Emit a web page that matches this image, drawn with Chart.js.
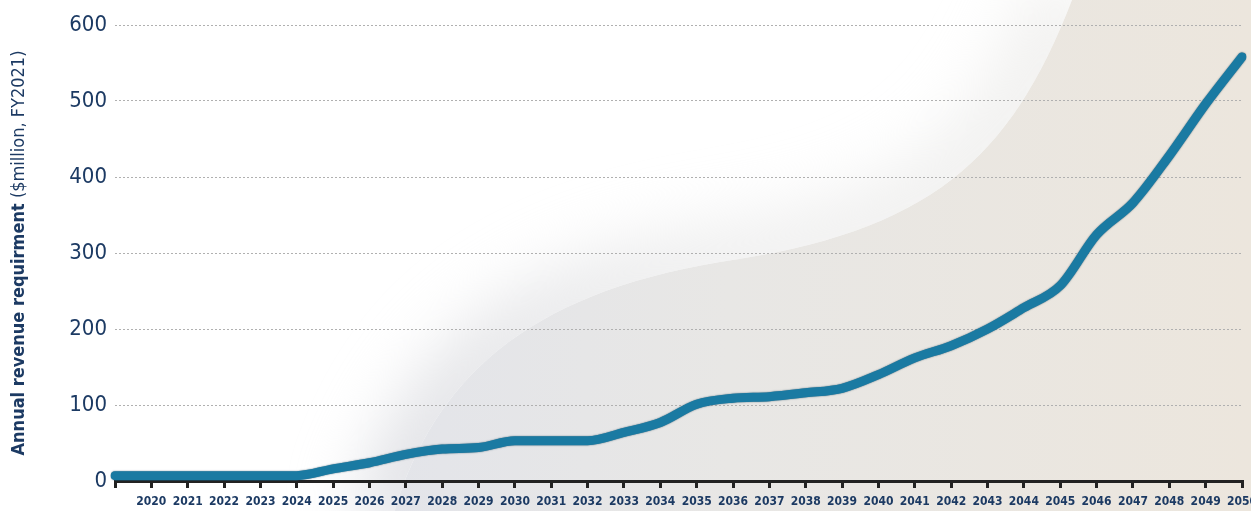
<!DOCTYPE html>
<html>
<head>
<meta charset="utf-8">
<style>
html,body{margin:0;padding:0;background:#ffffff;overflow:hidden}
#wrap{position:relative;width:1251px;height:511px}
canvas{display:block}
</style>
<script src="https://cdn.jsdelivr.net/npm/chart.js@4.4.1/dist/chart.umd.min.js"></script>
</head>
<body>
<div id="wrap"><canvas id="c" width="1251" height="511"></canvas></div>
<script>
// ---- data ----
const years = [2019,2020,2021,2022,2023,2024,2025,2026,2027,2028,2029,2030,2031,2032,2033,2034,2035,2036,2037,2038,2039,2040,2041,2042,2043,2044,2045,2046,2047,2048,2049,2050];
const revenue = [7,7,7,7,7,7,16,24,35,42,44,53,53,53,64,77,101,109,111,116,122,140,162,178,200,228,257,324,366,428,496,558];
const yTickValues = [0,100,200,300,400,500,600];
const hiddenYearLabels = [2019];
const yTitleBold = 'Annual revenue requirment';
const yTitleNormal = ' ($million, FY2021)';

const NAVY = '#1c3a63';
const FONT = '"DejaVu Sans Condensed", "DejaVu Sans", sans-serif';

const bgPlugin = {
  id: 'bgDecor',
  beforeDraw(chart) {
    const ctx = chart.ctx, W = chart.width, H = chart.height;
    ctx.save();
    const g = ctx.createLinearGradient(300, 0, W, 0);
    g.addColorStop(0, '#e2e4eb');
    g.addColorStop(0.45, '#e8e7e5');
    g.addColorStop(1, '#ece6dd');
    ctx.fillStyle = g;
    ctx.fillRect(0, 0, W, H);
    // white lobe
    const lobe = new Path2D();
    lobe.moveTo(-20, -20);
    lobe.lineTo(1072, -20);
    lobe.lineTo(1072, 0);
    lobe.bezierCurveTo(1010, 160, 930, 232, 720, 262);
    lobe.bezierCurveTo(520, 295, 430, 385, 392, 520);
    lobe.lineTo(-20, 520);
    lobe.closePath();
    ctx.fillStyle = '#ffffff';
    ctx.fill(lobe);
    // inner soft shading along the edge
    ctx.save();
    ctx.clip(lobe);
    const edge = new Path2D();
    edge.moveTo(1072, -10);
    edge.bezierCurveTo(1010, 160, 930, 232, 720, 262);
    edge.bezierCurveTo(520, 295, 430, 385, 392, 530);
    ctx.filter = 'blur(32px)';
    const sg = ctx.createLinearGradient(1072, 0, 392, 511);
    sg.addColorStop(0, 'rgba(230,229,226,0.55)');
    sg.addColorStop(0.5, 'rgba(230,230,230,0.6)');
    sg.addColorStop(1, 'rgba(222,223,228,1)');
    ctx.strokeStyle = sg;
    ctx.lineWidth = 80;
    ctx.stroke(edge);
    ctx.restore();
    ctx.restore();
  },
  beforeDatasetDraw(chart) {
    const ctx = chart.ctx;
    ctx.save();
    ctx.shadowColor = 'rgba(15,60,85,0.8)';
    ctx.shadowBlur = 1.5;
  },
  afterDatasetDraw(chart) {
    chart.ctx.restore();
  },
  afterDraw(chart) {
    const ctx = chart.ctx;
    ctx.save();
    ctx.fillStyle = NAVY;
    ctx.textBaseline = 'middle';
    ctx.translate(19, 253);
    ctx.rotate(-Math.PI / 2);
    const fb = 'bold 18px ' + FONT;
    const fn = '18px ' + FONT;
    ctx.font = fb; const wb = ctx.measureText(yTitleBold).width;
    ctx.font = fn; const wn = ctx.measureText(yTitleNormal).width;
    let x = -(wb + wn) / 2;
    ctx.textAlign = 'left';
    ctx.font = fb; ctx.fillText(yTitleBold, x, 0);
    ctx.font = fn; ctx.fillText(yTitleNormal, x + wb, 0);
    ctx.restore();
  }
};

new Chart(document.getElementById('c'), {
  type: 'line',
  data: {
    labels: years.map(String),
    datasets: [{
      data: revenue,
      borderColor: '#1a7aa2',
      borderWidth: 9,
      borderCapStyle: 'round',
      borderJoinStyle: 'round',
      pointRadius: 0,
      pointHoverRadius: 0,
      cubicInterpolationMode: 'monotone',
      fill: false
    }]
  },
  options: {
    responsive: false,
    animation: false,
    devicePixelRatio: 1,
    layout: { padding: { left: 0, right: 9, top: 25, bottom: 0 } },
    plugins: { legend: { display: false }, tooltip: { enabled: false }, title: { display: false } },
    scales: {
      x: {
        type: 'category',
        offset: false,
        grid: { drawOnChartArea: false, drawTicks: true, tickLength: 7, color: '#222222', lineWidth: 3 },
        border: { display: true, color: '#222222', width: 3 },
        ticks: {
          autoSkip: false, maxRotation: 0, minRotation: 0, padding: 7,
          color: NAVY,
          font: { family: FONT, size: 12, weight: 'bold' },
          callback: function(v) { const y = years[v]; return hiddenYearLabels.includes(y) ? '' : String(y); }
        },
        afterFit(scale) { scale.height = 30; scale.paddingLeft = 0; scale.paddingRight = 0; }
      },
      y: {
        min: 0, max: 600,
        afterBuildTicks(scale) { scale.ticks = yTickValues.map(v => ({ value: v })); },
        grid: { color: '#b0b0b0', lineWidth: 1, drawTicks: false },
        border: { display: false, dash: [2, 2] },
        ticks: { padding: 8, color: NAVY, font: { family: FONT, size: 22 } },
        afterFit(scale) { scale.width = 115; scale.paddingTop = 0; scale.paddingBottom = 0; }
      }
    }
  },
  plugins: [bgPlugin]
});
</script>
</body>
</html>
